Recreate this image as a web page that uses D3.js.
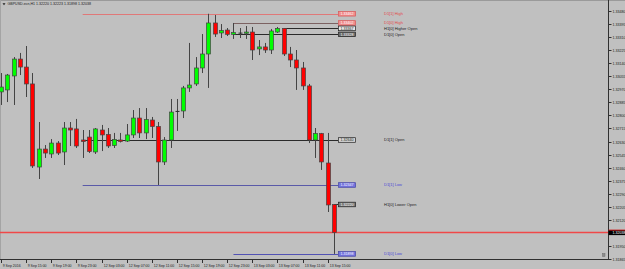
<!DOCTYPE html>
<html>
<head>
<meta charset="utf-8">
<script src="https://cdn.jsdelivr.net/npm/d3@7"></script>
<style>
html, body { margin: 0; padding: 0; background: #c0c0c0; }
svg { display: block; font-family: "Liberation Sans", Arial, sans-serif; }
</style>
</head>
<body>
<div id="chart"></div>
<script>
// GBPUSD H1 bars, 9 Sep 2016 -> 13 Sep 2016
const opens = [1.32953,1.32966,1.33057,1.33167,1.33115,1.33005,1.32464,1.32581,1.32549,1.32620,
  1.32562,1.32718,1.32712,1.32640,1.32659,1.32562,1.32705,1.32676,1.32604,1.32640,
  1.32633,1.32673,1.32783,1.32686,1.32770,1.32728,1.32497,1.32640,1.32826,1.32829,
  1.32979,1.33005,1.33109,1.33200,1.33402,1.33337,1.33356,1.33328,1.33336,1.33335,
  1.33343,1.33233,1.33246,1.33226,1.33343,1.33367,1.33200,1.33161,1.33109,1.32992,
  1.32640,1.32682,1.32490,1.32220];
const highs = [1.33076,1.33070,1.33180,1.33207,1.33252,1.33076,1.32757,1.32607,1.32646,1.32633,
  1.32757,1.32757,1.32777,1.32705,1.32705,1.32718,1.32738,1.32718,1.32686,1.32686,
  1.32744,1.32835,1.32848,1.32848,1.32790,1.32757,1.32659,1.32907,1.32907,1.32992,
  1.33272,1.33180,1.33330,1.33462,1.33454,1.33395,1.33369,1.33402,1.33369,1.33382,
  1.33376,1.33291,1.33272,1.33363,1.33376,1.33369,1.33246,1.33226,1.33148,1.33005,
  1.32718,1.32686,1.32686,1.32223];
const lows = [1.32868,1.32887,1.32868,1.33063,1.32920,1.32458,1.32386,1.32523,1.32523,1.32542,
  1.32477,1.32601,1.32588,1.32523,1.32555,1.32549,1.32568,1.32588,1.32588,1.32624,
  1.32627,1.32653,1.32653,1.32646,1.32653,1.32347,1.32477,1.32588,1.32699,1.32783,
  1.32953,1.32992,1.33076,1.32979,1.33311,1.33304,1.33317,1.33298,1.33304,1.33298,
  1.33161,1.33193,1.33207,1.33200,1.33337,1.33187,1.33115,1.32966,1.32966,1.32620,
  1.32523,1.32445,1.32171,1.31898];
const closes = [1.32985,1.33063,1.33167,1.33115,1.33005,1.32471,1.32581,1.32555,1.32620,1.32555,
  1.32718,1.32705,1.32601,1.32630,1.32565,1.32712,1.32673,1.32601,1.32643,1.32630,
  1.32673,1.32783,1.32686,1.32773,1.32728,1.32497,1.32640,1.32822,1.32826,1.32979,
  1.32998,1.33109,1.33200,1.33402,1.33330,1.33353,1.33328,1.33340,1.33336,1.33343,
  1.33226,1.33246,1.33226,1.33350,1.33367,1.33200,1.33161,1.33109,1.32992,1.32640,
  1.32682,1.32497,1.32217,1.32038];

const priceTicks = [1.33480,1.33395,1.33310,1.33225,1.33140,1.33055,1.32970,1.32885,1.32800,1.32715,
  1.32630,1.32545,1.32460,1.32375,1.32290,1.32205,1.32120,1.32035,1.31950,1.31865];

const timeLabelBars = [0,4,8,12,16,20,24,28,32,36,40,44,48,52];
const timeLabels = ["9 Sep 2016","9 Sep 15:00","9 Sep 19:00","9 Sep 23:00","12 Sep 03:00","12 Sep 07:00",
  "12 Sep 11:00","12 Sep 15:00","12 Sep 19:00","12 Sep 23:00","13 Sep 03:00","13 Sep 07:00",
  "13 Sep 11:00","13 Sep 15:00"];

// daily / hourly levels
const levelNames = ["D1[1] High","D1[0] High","H1[0] Higher Open","D1[0] Open","D1[1] Open","D1[1] Low","H1[0] Lower Open","D1[0] Low"];
const levelPrices = [1.33462,1.33402,1.33367,1.33328,1.32640,1.32347,1.32220,1.31898];
const levelStartBars = [13,37,45,37,13,13,53,37];

const symbol = "GBPUSD.ecn,H1";

const levelStyle = {
    "D1[1] High":        {line: "#e07878", box: "#f08c8c", edge: "#d85858", text: "#ffffff", label: "#e04a4a"},
    "D1[0] High":        {line: "#7c6262", box: "#f08c8c", edge: "#d85858", text: "#ffffff", label: "#e04a4a"},
    "H1[0] Higher Open": {line: "#2a2a2a", box: "#e6e6e6", edge: "#202020", text: "#202020", label: "#202020"},
    "D1[0] Open":        {line: "#2a2a2a", box: "#6c6c6c", edge: "#202020", text: "#ffffff", label: "#202020"},
    "D1[1] Open":        {line: "#2a2a2a", box: "#d4d4d4", edge: "#202020", text: "#202020", label: "#202020"},
    "D1[1] Low":         {line: "#5a5aa8", box: "#7474de", edge: "#4444a4", text: "#ffffff", label: "#4a4ad8"},
    "H1[0] Lower Open":  {line: "#2a2a2a", box: "#7c7c7c", edge: "#202020", text: "#ffffff", label: "#202020"},
    "D1[0] Low":         {line: "#5252b4", box: "#7474de", edge: "#4444a4", text: "#ffffff", label: "#4a4ad8"}
};

const W = 625, H = 269;
const axisX = 608.5, axisY = 259.5;

const x = d3.scaleLinear().domain([0, 53]).range([1, 334]);
const y = d3.scaleLinear().domain([1.31865, 1.33480]).range([259, 11]);
const fmt = d3.format(".5f");

const svg = d3.select("#chart").append("svg")
    .attr("width", W)
    .attr("height", H);

svg.append("rect").attr("width", W).attr("height", H).attr("fill", "#c0c0c0");

// window frame
svg.append("line").attr("x1", 0).attr("x2", W).attr("y1", 0.5).attr("y2", 0.5).attr("stroke", "#9a9a9a");
svg.append("line").attr("x1", 0.5).attr("x2", 0.5).attr("y1", 0).attr("y2", axisY).attr("stroke", "#a4a4a4");

// levels: lines first, candles on top
const levels = levelNames.map((name, i) => ({name, price: levelPrices[i], start: levelStartBars[i]}));

svg.append("g").selectAll("line")
    .data(levels)
    .enter()
    .append("line")
    .attr("x1", d => x(d.start))
    .attr("x2", 338)
    .attr("y1", d => Math.round(y(d.price)) + 0.5)
    .attr("y2", d => Math.round(y(d.price)) + 0.5)
    .attr("stroke", d => levelStyle[d.name].line)
    .attr("stroke-width", 1);

// current price line
const last = closes.length - 1;
const cy = Math.round(y(closes[last])) + 0.5;
svg.append("line")
    .attr("x1", 0).attr("x2", axisX)
    .attr("y1", cy).attr("y2", cy)
    .attr("stroke", "#f04848")
    .attr("stroke-width", 1.6);

// candles
const bars = opens.map((o, i) => ({i, o, h: highs[i], l: lows[i], c: closes[i]}));

const candle = svg.append("g").selectAll(".bar")
    .data(bars)
    .enter()
    .append("g")
    .attr("class", "bar")
    .attr("transform", d => `translate(${Math.round(x(d.i)) + 0.5},0)`);

candle.append("line")
    .attr("x1", 0).attr("x2", 0)
    .attr("y1", d => y(d.h))
    .attr("y2", d => y(d.l))
    .attr("stroke", "#444444")
    .attr("stroke-width", 1);

candle.each(function(d){
    const g = d3.select(this);
    const top = y(Math.max(d.o, d.c)), bot = y(Math.min(d.o, d.c));
    if (d.o === d.c) {
        g.append("line")
            .attr("x1", -2).attr("x2", 2)
            .attr("y1", top).attr("y2", top)
            .attr("stroke", "#2a2a2a")
            .attr("stroke-width", 1);
        return;
    }
    g.append("rect")
        .attr("x", -2)
        .attr("width", 4)
        .attr("y", top)
        .attr("height", Math.max(1, bot - top))
        .attr("fill", d.c > d.o ? "#00ff00" : "#ff0000")
        .attr("stroke", "#444444")
        .attr("stroke-width", 0.7);
});

// level price boxes and names
const lv = svg.append("g").selectAll(".level")
    .data(levels)
    .enter()
    .append("g")
    .attr("class", "level")
    .attr("transform", d => `translate(0,${y(d.price)})`);

lv.append("rect")
    .attr("x", 338.5).attr("y", -2.3)
    .attr("width", 17).attr("height", 4.6)
    .attr("fill", d => levelStyle[d.name].box)
    .attr("stroke", d => levelStyle[d.name].edge)
    .attr("stroke-width", 0.7);

lv.append("text")
    .attr("x", 347).attr("y", 0)
    .attr("dy", "0.35em")
    .attr("text-anchor", "middle")
    .attr("font-size", 3.6)
    .attr("fill", d => levelStyle[d.name].text)
    .text(d => fmt(d.price));

lv.append("text")
    .attr("x", 384).attr("y", 0)
    .attr("dy", "0.35em")
    .attr("font-size", 4)
    .attr("fill", d => levelStyle[d.name].label)
    .text(d => d.name);

// axes lines
svg.append("line").attr("x1", axisX).attr("x2", axisX).attr("y1", 0).attr("y2", axisY + 0.5)
    .attr("stroke", "#303030");
svg.append("line").attr("x1", 0).attr("x2", axisX).attr("y1", axisY).attr("y2", axisY)
    .attr("stroke", "#303030");

// price axis
const py = svg.append("g").selectAll(".ptick")
    .data(priceTicks)
    .enter()
    .append("g")
    .attr("class", "ptick")
    .attr("transform", d => `translate(0,${Math.round(y(d)) + 0.5})`);
py.append("line").attr("x1", axisX).attr("x2", axisX + 3).attr("stroke", "#303030");
py.append("text")
    .attr("x", 612.5).attr("dy", "0.35em")
    .attr("font-size", 3.6)
    .attr("fill", "#1a1a1a")
    .text(d => fmt(d));

// current price box on the axis
svg.append("rect")
    .attr("x", axisX).attr("y", cy - 2.6)
    .attr("width", W - axisX).attr("height", 5.2)
    .attr("fill", "#000000");
svg.append("line")
    .attr("x1", axisX).attr("x2", W).attr("y1", cy - 2.4).attr("y2", cy - 2.4)
    .attr("stroke", "#ff2020").attr("stroke-width", 0.8);
svg.append("text")
    .attr("x", 612.5).attr("y", cy).attr("dy", "0.35em")
    .attr("font-size", 3.6)
    .attr("fill", "#ffffff")
    .text(fmt(closes[last]));

// time axis
const tx = svg.append("g").selectAll(".ttick")
    .data(timeLabelBars)
    .enter()
    .append("g")
    .attr("class", "ttick")
    .attr("transform", d => `translate(${Math.round(x(d)) + 0.5},0)`);
tx.append("line").attr("y1", axisY).attr("y2", axisY + 3.5).attr("stroke", "#303030");
tx.append("text")
    .attr("x", 1.2).attr("y", 266.5)
    .attr("font-size", 3.5)
    .attr("fill", "#1a1a1a")
    .text((d, i) => timeLabels[i]);

// title
svg.append("path").attr("d", "M2.5,3.2 L5.5,3.2 L4,5.2 Z").attr("fill", "#202020");
svg.append("text")
    .attr("x", 7.5).attr("y", 5.4)
    .attr("font-size", 3.6)
    .attr("fill", "#1a1a1a")
    .text(`${symbol}  ${fmt(opens[last])} ${fmt(highs[last])} ${fmt(lows[last])} ${fmt(closes[last])}`);

// small corner icon
svg.append("rect").attr("x", 602.5).attr("y", 253.5).attr("width", 2.5).attr("height", 3)
    .attr("fill", "#8c8c8c").attr("stroke", "#6c6c6c").attr("stroke-width", 0.5);
</script>
</body>
</html>
